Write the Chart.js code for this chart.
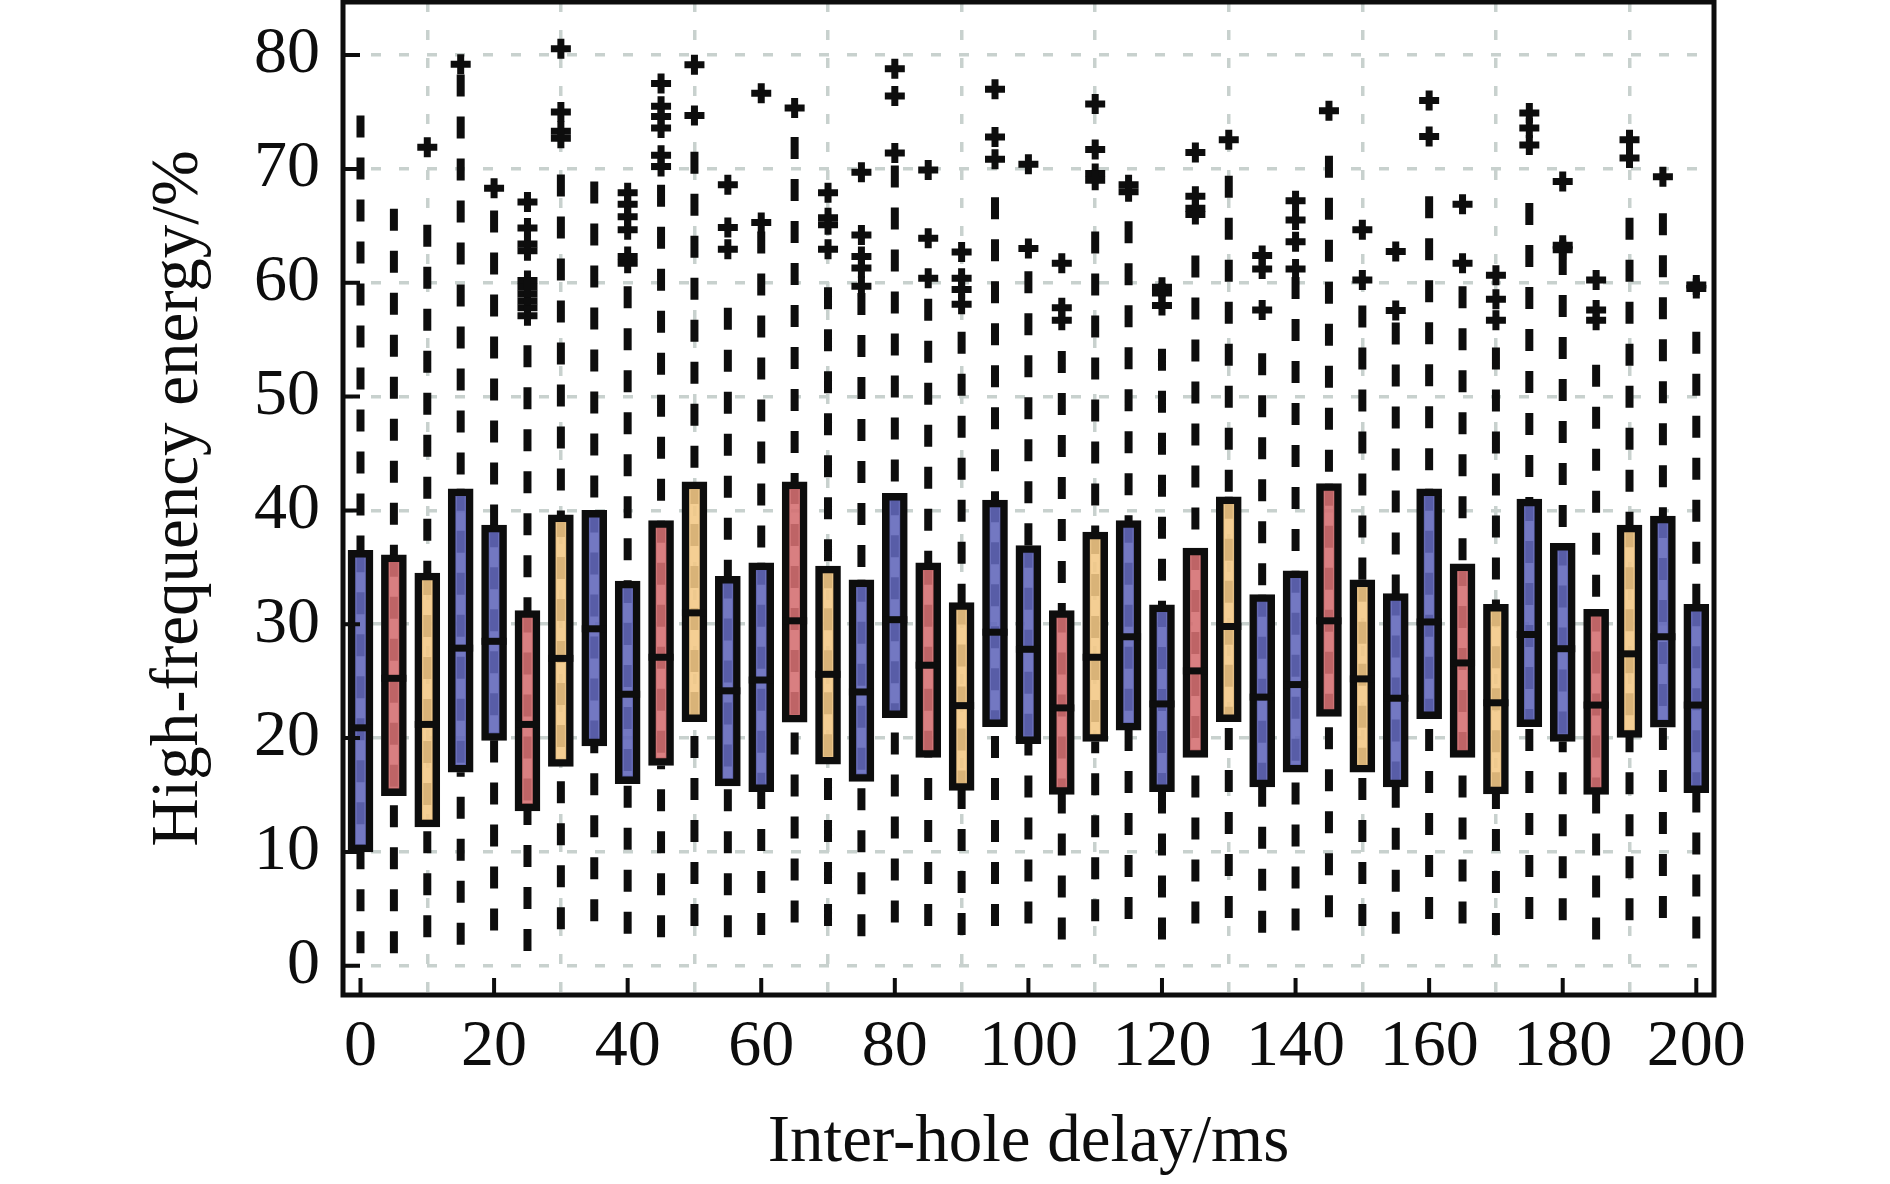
<!DOCTYPE html>
<html>
<head>
<meta charset="utf-8">
<script src="https://cdn.jsdelivr.net/npm/chart.js@4.4.1/dist/chart.umd.min.js"></script>
<style>
  html, body { margin: 0; padding: 0; background: #ffffff; }
  #wrap { position: relative; width: 1890px; height: 1184px; }
</style>
</head>
<body>
<div id="wrap"><canvas id="c"></canvas></div>
<script>
// ---------------- data ----------------
const delays = [0,5,10,15,20,25,30,35,40,45,50,55,60,65,70,75,80,85,90,95,100,105,110,115,120,125,130,135,140,145,150,155,160,165,170,175,180,185,190,195,200];
const groups = ['b','r','y','b','b','r','y','b','b','r','y','b','b','r','y','b','b','r','y','b','b','r','y','b','b','r','y','b','b','r','y','b','b','r','y','b','b','r','y','b','b'];
const whiskerLow = [1.1,1.1,2.5,1.85,3.1,1.3,3.2,3.9,2.8,2.5,3.5,2.5,2.7,3.8,3.5,2.6,3.8,3.5,2.7,3.5,3.7,2.3,3.9,4.1,2.3,3.7,4.2,2.9,3.1,4.25,3.5,2.8,4.1,3.7,2.7,4.1,4.0,2.3,4.0,4.2,2.4];
const q1 = [10.0,14.95,12.2,17.0,19.8,13.6,17.5,19.3,16.0,17.6,21.45,15.8,15.3,21.4,17.7,16.2,21.8,18.3,15.4,21.0,19.5,15.05,19.7,20.7,15.3,18.3,21.45,15.7,17.0,21.9,17.0,15.7,21.7,18.3,15.1,21.0,19.7,15.05,20.05,20.95,15.2];
const median = [20.9,25.25,21.2,27.9,28.5,21.2,27.0,29.6,23.85,27.1,31.0,24.15,25.1,30.3,25.6,24.05,30.4,26.4,22.85,29.3,27.8,22.65,27.1,28.9,23.0,25.9,29.8,23.6,24.7,30.3,25.2,23.5,30.2,26.6,23.1,29.1,27.85,22.9,27.4,28.9,22.9];
const q3 = [36.5,36.1,34.5,41.9,38.7,31.2,39.6,40.0,33.8,39.1,42.5,34.2,35.4,42.5,35.1,33.9,41.5,35.4,31.9,40.9,36.9,31.2,38.1,39.1,31.7,36.7,41.2,32.6,34.7,42.35,33.9,32.7,41.9,35.3,31.75,41.0,37.1,31.3,38.7,39.5,31.75];
const whiskerHigh = [74.7,66.5,65.1,78.3,66.35,54.5,69.5,68.9,59.7,68.6,71.5,57.8,64.5,72.8,59.6,59.1,70.3,58.6,55.7,67.5,61.0,54.0,64.5,65.4,54.2,62.4,69.4,53.8,60.5,71.15,58.0,56.5,67.6,59.7,54.3,67.0,62.6,52.8,65.7,66.1,55.7];
const outliers = [
  [], [], [71.9], [79.2], [68.3],
  [67.1,64.8,63.4,62.8,60.2,59.6,59.0,58.4,57.8,57.1],
  [80.55,75.0,73.3,72.7], [],
  [67.9,66.9,65.8,64.65,62.3,61.7],
  [77.5,75.5,74.6,73.6,71.2,70.2],
  [79.15,74.7], [68.6,64.85,62.95], [76.65,65.3], [75.35],
  [67.9,65.7,65.1,62.95], [69.7,64.2,62.3,61.3,59.7], [78.8,76.4,71.4],
  [69.9,63.9,60.4], [62.7,60.4,59.4,58.1], [77.0,72.8,70.85],
  [70.4,63.0], [61.7,57.8,56.7], [75.7,71.7,69.6,69.0], [68.6,68.0],
  [59.6,59.1,58.0], [71.45,67.6,66.55,66.0], [72.55], [62.4,61.2,57.6],
  [67.2,65.5,63.6,61.2], [75.1], [64.65,60.25], [62.75,57.55], [76.0,72.85],
  [66.9,61.7], [60.65,58.55,56.7], [74.9,73.6,72.1], [68.9,63.3,62.9],
  [60.25,57.6,56.7], [72.55,70.95], [69.3], [59.8,59.5]
];
const xTickValues = [0,20,40,60,80,100,120,140,160,180,200];
const yTickValues = [0,10,20,30,40,50,60,70,80];
const xTitle = 'Inter-hole delay/ms';
const yTitle = 'High-frequency energy/%';

// ---------------- styles ----------------
const groupFill = { b: 'rgba(98,103,186,0.89)', r: 'rgba(212,111,114,0.89)', y: 'rgba(243,200,134,0.89)' };
const INK = '#0d0d0d';
const GRID = '#c8d1ce';
const SERIF = "'Liberation Serif', 'Times New Roman', serif";

// ---------------- derived datasets ----------------
const boxData = delays.map((d, i) => ({ x: d, y: [q1[i], q3[i]] }));
const medianData = delays.map((d, i) => ({ x: d, y: median[i] }));
const whiskerData = [];
delays.forEach((d, i) => {
  whiskerData.push({ x: d, y: whiskerHigh[i] }, { x: d, y: q3[i] }, { x: d, y: null });
  whiskerData.push({ x: d, y: q3[i] }, { x: d, y: q1[i] }, { x: d, y: null });
  whiskerData.push({ x: d, y: whiskerLow[i] }, { x: d, y: q1[i] }, { x: d, y: null });
});
const outlierData = [];
delays.forEach((d, i) => outliers[i].forEach(v => outlierData.push({ x: d, y: v })));

const framePlugin = {
  id: 'frame',
  afterDatasetsDraw(chart) {
    const { ctx, chartArea: a, scales: { x, y } } = chart;
    ctx.save();
    ctx.setLineDash([]);
    ctx.strokeStyle = INK;
    ctx.lineWidth = 4;
    ctx.beginPath();
    yTickValues.forEach(v => { const p = y.getPixelForValue(v); ctx.moveTo(a.left, p); ctx.lineTo(a.left + 17, p); });
    xTickValues.forEach(v => { const p = x.getPixelForValue(v); ctx.moveTo(p, a.bottom); ctx.lineTo(p, a.bottom - 17); });
    ctx.stroke();
    ctx.lineWidth = 5;
    ctx.strokeRect(a.left, a.top, a.right - a.left, a.bottom - a.top);
    ctx.restore();
  }
};

new Chart(document.getElementById('c'), {
  type: 'bar',
  data: {
    datasets: [
      {
        type: 'line', data: whiskerData, order: 3,
        borderColor: INK, borderWidth: 8, borderDash: [22, 20], borderCapStyle: 'butt',
        pointRadius: 0, spanGaps: false, tension: 0, fill: false
      },
      {
        type: 'bar', data: boxData, order: 2,
        backgroundColor: groups.map(g => groupFill[g]),
        borderColor: INK, borderWidth: 7.5, borderSkipped: false, barThickness: 25
      },
      {
        type: 'scatter', data: medianData, order: 1,
        pointStyle: 'line', pointRadius: 12.5, pointBorderWidth: 7,
        pointBorderColor: INK, pointBackgroundColor: INK, pointHoverRadius: 12.5
      },
      {
        type: 'scatter', data: outlierData, order: 0,
        pointStyle: 'cross', pointRadius: 10, pointBorderWidth: 7,
        pointBorderColor: INK, pointBackgroundColor: INK, pointHoverRadius: 10
      }
    ]
  },
  options: {
    responsive: true,
    maintainAspectRatio: false,
    animation: false,
    devicePixelRatio: 1,
    layout: { autoPadding: false, padding: { left: 0, right: 176, top: 2, bottom: 0 } },
    plugins: { legend: { display: false }, tooltip: { enabled: false } },
    scales: {
      x: {
        type: 'linear', min: -2.62, max: 202.65, offset: false,
        afterBuildTicks: s => { s.ticks = xTickValues.map(v => ({ value: v })); },
        afterFit: s => { s.height = 189; s.paddingLeft = 0; s.paddingRight = 0; },
        grid: { color: GRID, lineWidth: 3.5, drawTicks: false },
        border: { display: false, dash: [10, 18] },
        ticks: { autoSkip: false, maxRotation: 0, padding: 13, color: INK, font: { family: SERIF, size: 66 } },
        title: { display: true, text: xTitle, color: INK, padding: { top: 0, bottom: 0 }, font: { family: SERIF, size: 67 } }
      },
      y: {
        type: 'linear', min: -2.57, max: 84.66,
        afterBuildTicks: s => { s.ticks = yTickValues.map(v => ({ value: v })); },
        afterFit: s => { s.width = 343; s.paddingTop = 0; s.paddingBottom = 0; },
        grid: { color: GRID, lineWidth: 3.5, drawTicks: false },
        border: { display: false, dash: [10, 18] },
        ticks: { padding: 23, color: INK, font: { family: SERIF, size: 66 } },
        title: { display: true, text: yTitle, color: INK, padding: { top: 139, bottom: 0 }, font: { family: SERIF, size: 67 } }
      }
    }
  },
  plugins: [framePlugin]
});
</script>
</body>
</html>
